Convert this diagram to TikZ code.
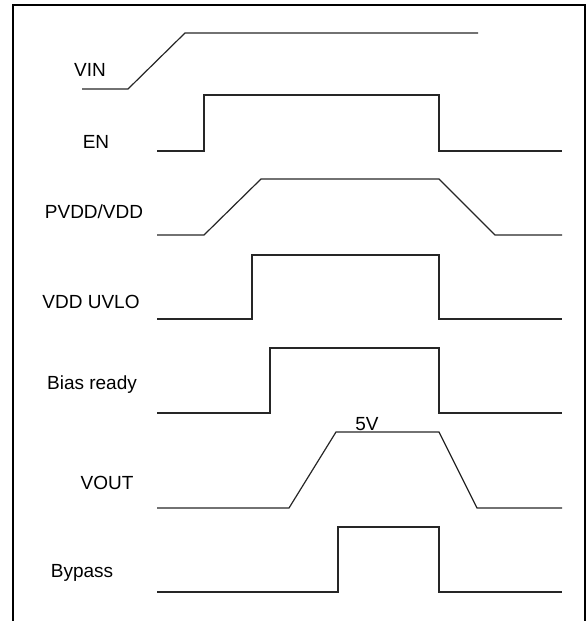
\documentclass[tikz,border=0pt]{standalone}
\usepackage{fontspec}
\setmainfont{Liberation Sans}
\usetikzlibrary{positioning}
\definecolor{trazo}{HTML}{262626}
\tikzset{sig/.style={line width=1.2pt,trazo,line join=miter},
         lbl/.style={font=\fontsize{19}{21}\selectfont,inner sep=0},
         marco/.style={line width=2.2pt,black}}

\begin{document}
\begin{tikzpicture}[x=1pt,y=-1pt]
  \useasboundingbox (0,0) rectangle (587,621);
  \draw[marco] (13,621) -- (13,5) -- (585,5) -- (585,621);
  \node[lbl] (vin) at (90,70) {VIN};
  \node[lbl] (en) at (96,142) {EN};
  \node[lbl] (pvdd) at (94,212) {PVDD/VDD};
  \node[lbl] (uvlo) at (91,302) {VDD UVLO};
  \node[lbl] (bias) at (92,385) {Bias ready};
  \node[lbl] (vout) at (107,483) {VOUT};
  \node[lbl] (byp) at (82,573) {Bypass};
  \node[lbl] (cinco) at (367,424) {5V};
  % rampas
  \draw[sig] (82,89) -- (128,89) -- (185,33) -- (478,33);
  \draw[sig] (157,235) -- (204,235) -- (261,179) -- (439,179) -- (495,235) -- (562,235);
  \draw[sig] (157,508) -- (289,508) -- (336,432) -- (439,432) -- (477,508) -- (562,508);
  % pulsos
  \foreach \lo/\hi/\up in {151/95/204, 319/255/252, 413/348/270, 592/527/338}
    \draw[sig] (157,\lo) -- (\up,\lo) -- (\up,\hi) -- (439,\hi) -- (439,\lo) -- (562,\lo);
\end{tikzpicture}
\end{document}
